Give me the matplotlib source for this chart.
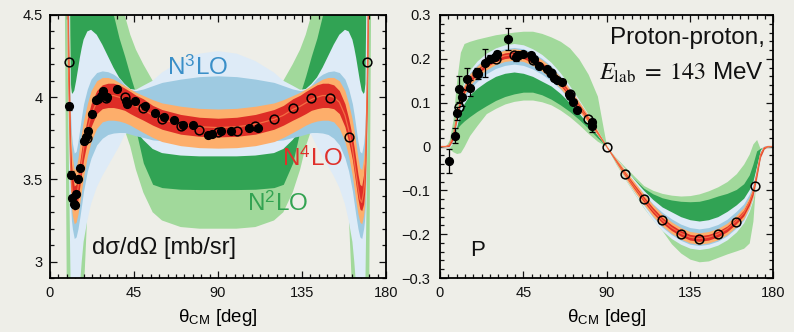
import numpy as np
import matplotlib
matplotlib.use("Agg")
import matplotlib.pyplot as plt
from matplotlib.ticker import MultipleLocator, FuncFormatter

plt.rcParams['font.family'] = ['Liberation Sans', 'DejaVu Sans']
plt.rcParams['mathtext.fontset'] = 'stix'

BG = '#eeeee8'
C_LG = '#a1d99b'   # N2LO outer
C_DG = '#31a354'   # N2LO inner
C_LB = '#deebf7'   # N3LO outer
C_MB = '#9ecae1'   # N3LO inner
C_OR = '#fdae6b'   # N4LO outer
C_RD = '#de2d26'   # N4LO inner
C_LINE = '#f46d43'

# ---------------- differential cross section (left panel) ----------------
theta_l = [0, 7, 8, 9, 9.5, 10, 10.5, 11, 11.5, 12, 13, 14, 15, 16, 17, 18, 20, 22, 25, 28,
           31, 34, 37, 40, 43, 46, 50, 55, 60, 70, 80, 90,
           100, 110, 120, 125, 130, 134, 137, 140, 143, 146, 149, 152, 155, 158, 160, 162,
           163, 164, 165, 166, 167, 168, 168.5, 169, 169.5, 170, 170.5, 171, 172, 173, 180]

xs_n4lo = [5.0, 5.0, 5.0, 5.0, 4.6, 4.1, 3.85, 3.6, 3.48, 3.42, 3.36, 3.38, 3.45, 3.53, 3.61, 3.69,
           3.8, 3.89, 3.97, 4.0, 4.01, 4.01, 4.0, 3.985, 3.965, 3.945, 3.925, 3.89, 3.865, 3.835, 3.82, 3.815,
           3.82, 3.835, 3.865, 3.89, 3.925, 3.945, 3.965, 3.985, 4.0, 4.01, 4.01, 4.0, 3.97, 3.89, 3.8,
           3.69, 3.61, 3.53, 3.45, 3.38, 3.36, 3.42, 3.48, 3.6, 3.85, 4.1, 4.6, 5.0, 5.0, 5.0, 5.0]
xs_n4lo_lo_in = [5.0, 5.0, 5.0, 5.0, 4.45, 3.98, 3.74, 3.52, 3.41, 3.35, 3.31, 3.32, 3.38, 3.46, 3.54, 3.62,
                 3.73, 3.82, 3.9, 3.93, 3.937, 3.937, 3.93, 3.92, 3.9, 3.882, 3.86, 3.83, 3.805, 3.775, 3.762, 3.758,
                 3.762, 3.775, 3.805, 3.83, 3.86, 3.882, 3.9, 3.92, 3.93, 3.937, 3.937, 3.93, 3.9, 3.82, 3.73,
                 3.62, 3.54, 3.46, 3.38, 3.32, 3.31, 3.35, 3.41, 3.52, 3.74, 3.98, 4.45, 5.0, 5.0, 5.0, 5.0]
xs_n4lo_hi_in = [5.0, 5.0, 5.0, 5.0, 4.8, 4.3, 4.0, 3.72, 3.6, 3.53, 3.46, 3.47, 3.53, 3.61, 3.69, 3.76,
                 3.87, 3.96, 4.04, 4.075, 4.085, 4.085, 4.075, 4.055, 4.035, 4.012, 3.99, 3.95, 3.925, 3.895, 3.878, 3.872,
                 3.878, 3.895, 3.925, 3.95, 3.99, 4.012, 4.035, 4.055, 4.075, 4.085, 4.085, 4.075, 4.04, 3.96, 3.87,
                 3.76, 3.69, 3.61, 3.53, 3.47, 3.46, 3.53, 3.6, 3.72, 4.0, 4.3, 4.8, 5.0, 5.0, 5.0, 5.0]
xs_n4lo_lo_out = [5.0, 5.0, 5.0, 5.0, 4.4, 3.92, 3.66, 3.43, 3.33, 3.28, 3.23, 3.24, 3.29, 3.36, 3.44, 3.52,
                  3.64, 3.73, 3.81, 3.85, 3.86, 3.86, 3.855, 3.845, 3.83, 3.81, 3.785, 3.755, 3.73, 3.705, 3.693, 3.69,
                  3.693, 3.705, 3.73, 3.755, 3.785, 3.81, 3.83, 3.845, 3.855, 3.86, 3.86, 3.85, 3.81, 3.73, 3.64,
                  3.52, 3.44, 3.36, 3.29, 3.24, 3.23, 3.28, 3.33, 3.43, 3.66, 3.92, 4.4, 5.0, 5.0, 5.0, 5.0]
xs_n4lo_hi_out = [5.0, 5.0, 5.0, 5.0, 4.9, 4.4, 4.1, 3.82, 3.7, 3.63, 3.56, 3.57, 3.63, 3.71, 3.79, 3.86,
                  3.96, 4.04, 4.1, 4.12, 4.12, 4.11, 4.09, 4.07, 4.05, 4.03, 4.01, 3.985, 3.965, 3.945, 3.932, 3.928,
                  3.932, 3.945, 3.965, 3.985, 4.01, 4.03, 4.05, 4.07, 4.09, 4.11, 4.12, 4.12, 4.1, 4.04, 3.96,
                  3.86, 3.79, 3.71, 3.63, 3.57, 3.56, 3.63, 3.7, 3.82, 4.1, 4.4, 4.9, 5.0, 5.0, 5.0, 5.0]
xs_n3lo_lo_in = [5.0, 5.0, 5.0, 5.0, 4.3, 3.85, 3.6, 3.35, 3.25, 3.2, 3.14, 3.15, 3.2, 3.27, 3.35, 3.43,
                 3.55, 3.63, 3.71, 3.75, 3.773, 3.782, 3.785, 3.785, 3.775, 3.765, 3.755, 3.74, 3.735, 3.74, 3.75, 3.75,
                 3.75, 3.74, 3.735, 3.74, 3.755, 3.765, 3.775, 3.785, 3.785, 3.782, 3.773, 3.75, 3.71, 3.63, 3.55,
                 3.43, 3.35, 3.27, 3.2, 3.15, 3.14, 3.2, 3.25, 3.35, 3.6, 3.85, 4.3, 5.0, 5.0, 5.0, 5.0]
xs_n3lo_hi_in = [5.0, 5.0, 5.0, 5.0, 5.0, 4.55, 4.2, 3.9, 3.78, 3.72, 3.66, 3.67, 3.73, 3.81, 3.89, 3.96,
                 4.05, 4.11, 4.15, 4.16, 4.155, 4.14, 4.115, 4.075, 4.045, 4.04, 4.05, 4.07, 4.09, 4.11, 4.125, 4.13,
                 4.125, 4.11, 4.09, 4.07, 4.05, 4.04, 4.045, 4.075, 4.115, 4.14, 4.155, 4.16, 4.15, 4.11, 4.05,
                 3.96, 3.89, 3.81, 3.73, 3.67, 3.66, 3.72, 3.78, 3.9, 4.2, 4.55, 5.0, 5.0, 5.0, 5.0, 5.0]
xs_n3lo_lo_out = [5.0, 5.0, 5.0, 5.0, 4.2, 3.7, 3.3, 2.9, 2.7, 2.6, 2.55, 2.6, 2.7, 2.85, 3.0, 3.12,
                  3.25, 3.35, 3.45, 3.52, 3.58, 3.64, 3.7, 3.77, 3.8, 3.795, 3.74, 3.685, 3.66, 3.645, 3.64, 3.64,
                  3.64, 3.645, 3.66, 3.685, 3.74, 3.795, 3.8, 3.77, 3.7, 3.64, 3.58, 3.52, 3.45, 3.35, 3.25,
                  3.12, 3.0, 2.85, 2.7, 2.6, 2.55, 2.6, 2.7, 2.9, 3.3, 3.7, 4.2, 5.0, 5.0, 5.0, 5.0]
xs_n3lo_hi_out = [5.0, 5.0, 5.0, 5.0, 5.0, 5.0, 4.6, 4.08, 4.03, 4.02, 4.04, 4.1, 4.17, 4.24, 4.3, 4.35,
                  4.4, 4.41, 4.38, 4.32, 4.25, 4.18, 4.12, 4.08, 4.05, 4.045, 4.07, 4.1, 4.15, 4.22, 4.265, 4.28,
                  4.265, 4.22, 4.15, 4.1, 4.07, 4.045, 4.05, 4.08, 4.12, 4.18, 4.25, 4.32, 4.38, 4.41, 4.4,
                  4.35, 4.3, 4.24, 4.17, 4.1, 4.04, 4.02, 4.03, 4.08, 4.6, 5.0, 5.0, 5.0, 5.0, 5.0, 5.0]
xs_n2lo_lo_in = [5.0, 5.0, 5.0, 5.0, 5.0, 5.0, 4.6, 4.08, 4.03, 4.01, 4.0, 4.0, 3.99, 3.98, 3.97, 3.96,
                 3.95, 3.93, 3.9, 3.88, 3.86, 3.85, 3.84, 3.835, 3.83, 3.8, 3.6, 3.47, 3.45, 3.44, 3.438, 3.438,
                 3.438, 3.44, 3.45, 3.47, 3.6, 3.8, 3.83, 3.835, 3.84, 3.85, 3.86, 3.88, 3.9, 3.93, 3.95,
                 3.96, 3.97, 3.98, 3.99, 4.0, 4.0, 4.01, 4.03, 4.08, 4.6, 5.0, 5.0, 5.0, 5.0, 5.0, 5.0]
xs_n2lo_hi_in = [5.0, 5.0, 5.0, 5.0, 5.0, 5.0, 5.0, 5.0, 5.0, 5.0, 5.0, 5.0, 5.0, 5.0, 5.0, 5.0,
                 5.0, 5.0, 5.0, 5.0, 4.7, 4.5, 4.36, 4.25, 4.13, 4.02, 3.95, 3.9, 3.88, 3.86, 3.85, 3.85,
                 3.85, 3.86, 3.88, 3.9, 3.95, 4.02, 4.13, 4.25, 4.36, 4.5, 4.7, 5.0, 5.0, 5.0, 5.0,
                 5.0, 5.0, 5.0, 5.0, 5.0, 5.0, 5.0, 5.0, 5.0, 5.0, 5.0, 5.0, 5.0, 5.0, 5.0, 5.0]
xs_n2lo_lo_out = [5.0, 5.0, 4.5, 2.8, 2.5, 2.5, 2.5, 2.5, 2.5, 2.5, 2.5, 2.5, 2.5, 2.5, 2.6, 2.78,
                  3.3, 3.5, 3.65, 3.74, 3.8, 3.83, 3.83, 3.8, 3.7, 3.56, 3.42, 3.3, 3.25, 3.21, 3.2, 3.2,
                  3.2, 3.21, 3.25, 3.3, 3.42, 3.56, 3.7, 3.8, 3.83, 3.83, 3.8, 3.74, 3.65, 3.5, 3.3,
                  2.78, 2.6, 2.5, 2.5, 2.5, 2.5, 2.5, 2.5, 2.5, 2.5, 2.5, 2.5, 2.8, 4.5, 5.0, 5.0]
xs_n2lo_hi_out = [6.0, 6.0, 6.0, 6.0, 6.0, 6.0, 6.0, 6.0, 6.0, 6.0, 6.0, 6.0, 6.0, 6.0, 6.0, 6.0,
                  6.0, 6.0, 6.0, 6.0, 6.0, 6.0, 4.7, 4.5, 4.38, 4.29, 4.2, 4.1, 4.03, 4.0, 3.98, 3.98,
                  3.98, 4.0, 4.03, 4.1, 4.2, 4.29, 4.38, 4.5, 4.7, 6.0, 6.0, 6.0, 6.0, 6.0, 6.0,
                  6.0, 6.0, 6.0, 6.0, 6.0, 6.0, 6.0, 6.0, 6.0, 6.0, 6.0, 6.0, 6.0, 6.0, 6.0, 6.0]

# measured cross sections (filled) and mirrored points (open)
xs_data_th = [10.3, 11.2, 11.9, 12.8, 13.5, 14.1, 15.0, 16.0, 18.3, 19.2, 20.1, 22.6, 24.4, 25.8,
              27.2, 28.5, 30.3, 35.7, 40.8, 41.3, 45.8, 50.8, 56.5, 61.1, 66.5, 71.3, 76.6, 84.5,
              86.8, 91.8, 97.2, 106.4, 111.4]
xs_data = [3.944, 3.529, 3.384, 3.353, 3.345, 3.412, 3.505, 3.57, 3.731, 3.755, 3.792, 3.899, 3.98,
           3.988, 4.005, 4.035, 4.004, 4.049, 3.974, 3.958, 3.974, 3.944, 3.903, 3.877, 3.863, 3.833,
           3.833, 3.772, 3.778, 3.792, 3.792, 3.81, 3.812]
xs_err = [0.022, 0.02, 0.015, 0.012, 0.01, 0.012, 0.015, 0.014, 0.014, 0.012, 0.012, 0.015, 0.015,
          0.012, 0.015, 0.02, 0.012, 0.012, 0.012, 0.012, 0.01, 0.01, 0.008, 0.008, 0.008, 0.008,
          0.008, 0.008, 0.008, 0.008, 0.008, 0.008, 0.008]
open_th = [10, 20, 30, 40, 50, 60, 70, 80, 90, 100, 110, 120, 130, 140, 150, 160, 170]
xs_open = [4.213, 3.752, 3.994, 4.0, 3.937, 3.869, 3.822, 3.798, 3.79, 3.796, 3.822, 3.869, 3.936,
           3.998, 3.998, 3.756, 4.213]

# ---------------- analyzing power (right panel) ----------------
theta_p = [0, 3, 5, 7, 9, 11, 13, 16, 20, 25, 30, 35, 40, 45, 50, 55, 60, 65, 70, 75, 80, 85, 90,
           95, 100, 105, 110, 115, 120, 125, 130, 135, 140, 145, 150, 155, 160, 164, 167, 169, 171,
           173, 175, 177, 180]
p_n4lo = [0, 0, 0.003, 0.02, 0.065, 0.105, 0.128, 0.152, 0.17, 0.188, 0.2, 0.207, 0.21, 0.207, 0.198,
          0.185, 0.168, 0.146, 0.12, 0.092, 0.063, 0.032, 0,
          -0.032, -0.063, -0.092, -0.12, -0.146, -0.168, -0.185, -0.198, -0.207, -0.21, -0.207, -0.2,
          -0.188, -0.17, -0.152, -0.128, -0.105, -0.065, -0.02, -0.003, 0, 0]
p_n4lo_w_in = [0, 0, 0.002, 0.004, 0.005, 0.006, 0.0065, 0.0065, 0.0065, 0.0065, 0.0065, 0.0065,
               0.0065, 0.0065, 0.0065, 0.0065, 0.0065, 0.0065, 0.006, 0.005, 0.004, 0.002, 0,
               0.002, 0.004, 0.005, 0.006, 0.0065, 0.0065, 0.0065, 0.0065, 0.0065, 0.0065, 0.0065,
               0.0065, 0.0065, 0.0065, 0.0065, 0.0065, 0.006, 0.005, 0.004, 0.002, 0, 0]
p_n4lo_w_out = [0, 0.001, 0.003, 0.006, 0.009, 0.011, 0.012, 0.013, 0.013, 0.013, 0.013, 0.013,
                0.013, 0.013, 0.013, 0.013, 0.013, 0.013, 0.012, 0.011, 0.009, 0.005, 0,
                0.005, 0.009, 0.011, 0.012, 0.013, 0.013, 0.013, 0.013, 0.013, 0.013, 0.013, 0.013,
                0.013, 0.013, 0.013, 0.012, 0.011, 0.009, 0.006, 0.003, 0.001, 0]
# N3LO band edges given as distance below / above the N4LO curve
p_n3lo_dn_in = [0, 0.001, 0.004, 0.008, 0.013, 0.017, 0.019, 0.021, 0.022, 0.022, 0.022, 0.022,
                0.022, 0.022, 0.021, 0.02, 0.018, 0.015, 0.013, 0.01, 0.008, 0.005, 0,
                0.005, 0.008, 0.011, 0.013, 0.015, 0.016, 0.016, 0.016, 0.016, 0.016, 0.016, 0.016,
                0.016, 0.016, 0.016, 0.014, 0.012, 0.010, 0.006, 0.003, 0.001, 0]
p_n3lo_up_in = [0, 0.001, 0.003, 0.006, 0.010, 0.012, 0.014, 0.016, 0.016, 0.016, 0.016, 0.016,
                0.016, 0.016, 0.016, 0.016, 0.016, 0.015, 0.013, 0.011, 0.008, 0.005, 0,
                0.005, 0.008, 0.010, 0.013, 0.015, 0.018, 0.020, 0.021, 0.022, 0.022, 0.022, 0.022,
                0.022, 0.022, 0.021, 0.019, 0.017, 0.013, 0.008, 0.004, 0.001, 0]
p_n3lo_dn_out = [0, 0.002, 0.006, 0.012, 0.020, 0.026, 0.030, 0.034, 0.037, 0.040, 0.040, 0.040,
                 0.040, 0.040, 0.038, 0.036, 0.030, 0.025, 0.020, 0.016, 0.012, 0.006, 0,
                 0.006, 0.011, 0.015, 0.019, 0.022, 0.024, 0.025, 0.025, 0.025, 0.025, 0.025, 0.025,
                 0.025, 0.025, 0.022, 0.020, 0.017, 0.013, 0.008, 0.004, 0.001, 0]
p_n3lo_up_out = [0, 0.001, 0.004, 0.008, 0.013, 0.017, 0.020, 0.022, 0.025, 0.025, 0.025, 0.025,
                 0.025, 0.025, 0.025, 0.025, 0.024, 0.022, 0.019, 0.015, 0.011, 0.006, 0,
                 0.006, 0.012, 0.016, 0.020, 0.025, 0.030, 0.036, 0.038, 0.040, 0.040, 0.040, 0.040,
                 0.040, 0.037, 0.034, 0.030, 0.026, 0.020, 0.012, 0.006, 0.002, 0]
p_n2lo_lo_in = [0, 0, 0.0, 0.01, 0.04, 0.05, 0.058, 0.068, 0.08, 0.093, 0.105, 0.114, 0.12, 0.124,
                0.124, 0.118, 0.108, 0.095, 0.08, 0.062, 0.042, 0.02, 0,
                -0.03, -0.06, -0.09, -0.115, -0.14, -0.16, -0.175, -0.185, -0.19, -0.19, -0.185,
                -0.178, -0.165, -0.145, -0.13, -0.11, -0.09, -0.045, -0.01, 0, 0, 0]
p_n2lo_hi_in = [0, 0, 0.003, 0.02, 0.065, 0.1, 0.12, 0.145, 0.165, 0.18, 0.19, 0.195, 0.197, 0.195,
                0.188, 0.176, 0.16, 0.14, 0.115, 0.088, 0.06, 0.03, 0,
                -0.03, -0.055, -0.075, -0.095, -0.108, -0.117, -0.122, -0.125, -0.126, -0.125, -0.12,
                -0.113, -0.107, -0.098, -0.085, -0.065, -0.04, -0.01, -0.004, 0, 0, 0]
p_n2lo_lo_out = [0, 0, -0.005, -0.012, -0.016, -0.014, 0.0, 0.025, 0.048, 0.075, 0.087, 0.097, 0.103,
                 0.106, 0.106, 0.102, 0.095, 0.083, 0.068, 0.05, 0.03, 0.012, 0,
                 -0.04, -0.075, -0.108, -0.14, -0.167, -0.192, -0.222, -0.243, -0.257, -0.263, -0.261,
                 -0.253, -0.245, -0.238, -0.232, -0.22, -0.17, -0.05, -0.012, -0.002, 0, 0]
p_n2lo_hi_out = [0, 0, 0.015, 0.06, 0.15, 0.215, 0.235, 0.24, 0.245, 0.25, 0.255, 0.258, 0.261, 0.263,
                 0.263, 0.258, 0.25, 0.24, 0.225, 0.2, 0.165, 0.115, 0,
                 -0.025, -0.047, -0.068, -0.089, -0.1, -0.107, -0.111, -0.113, -0.112, -0.108, -0.101,
                 -0.092, -0.08, -0.062, -0.04, -0.017, 0.006, 0.016, -0.006, 0.0, 0, 0]

p_data_th = [5.0, 8.1, 9.0, 10.2, 11.7, 14.4, 16.2, 19.8, 20.7, 24.3, 27.0, 29.7, 30.6, 36.9, 41.0,
             42.0, 45.0, 49.0, 50.8, 53.6, 57.6, 59.9, 61.6, 63.2, 65.7, 69.5, 70.0, 71.6, 73.8,
             81.9, 82.2]
p_data = [-0.033, 0.025, 0.076, 0.131, 0.112, 0.155, 0.134, 0.17, 0.165, 0.19, 0.2, 0.205, 0.211,
          0.2445, 0.204, 0.208, 0.211, 0.208, 0.2, 0.184, 0.177, 0.168, 0.156, 0.152, 0.148, 0.12,
          0.115, 0.101, 0.083, 0.057, 0.046]
p_err = [0.027, 0.018, 0.015, 0.03, 0.02, 0.025, 0.018, 0.01, 0.01, 0.032, 0.008, 0.006, 0.006,
         0.025, 0.01, 0.008, 0.005, 0.005, 0.005, 0.005, 0.005, 0.005, 0.005, 0.005, 0.005, 0.005,
         0.005, 0.005, 0.005, 0.006, 0.012]
p_open = [0.091, 0.168, 0.199, 0.209, 0.197, 0.168, 0.12, 0.063, 0.0, -0.063, -0.12, -0.168, -0.2,
          -0.211, -0.2, -0.172, -0.09]


def tick_fmt(v, pos):
    return ('%g' % round(v, 6)).replace('-', '\u2212')


def style_axes(ax, ymajor, yminor):
    ax.set_facecolor(BG)
    ax.set_xlim(0, 180)
    ax.xaxis.set_major_locator(MultipleLocator(45))
    ax.xaxis.set_minor_locator(MultipleLocator(4.5))
    ax.yaxis.set_major_locator(MultipleLocator(ymajor))
    ax.yaxis.set_minor_locator(MultipleLocator(yminor))
    ax.xaxis.set_major_formatter(FuncFormatter(tick_fmt))
    ax.yaxis.set_major_formatter(FuncFormatter(tick_fmt))
    ax.tick_params(which='both', direction='in', top=True, right=True, width=0.9,
                   colors='#111111', labelsize=10.5)
    ax.tick_params(which='major', length=5)
    ax.tick_params(which='minor', length=2.8)
    ax.tick_params(axis='x', pad=6)
    ax.tick_params(axis='y', pad=5)
    for sp in ax.spines.values():
        sp.set_linewidth(1.3)
        sp.set_zorder(20)
    ax.set_xlabel('\u03b8$_{\\mathregular{CM}}$ [deg]', fontsize=13.5, labelpad=5)


def draw_bands(ax, th, layers):
    for (lo, hi), col, z in layers:
        ax.fill_between(th, lo, hi, color=col, lw=0, zorder=z)


fig = plt.figure(figsize=(7.94, 3.32), dpi=100, facecolor=BG)
ax1 = fig.add_axes([50 / 794, 54 / 332, 336 / 794, 263 / 332])
ax2 = fig.add_axes([440 / 794, 54 / 332, 333.3 / 794, 263 / 332])

# ---- left: d sigma / d Omega ----
draw_bands(ax1, theta_l, [
    ((xs_n2lo_lo_out, xs_n2lo_hi_out), C_LG, 1),
    ((xs_n2lo_lo_in, xs_n2lo_hi_in), C_DG, 2),
    ((xs_n3lo_lo_out, xs_n3lo_hi_out), C_LB, 3),
    ((xs_n3lo_lo_in, xs_n3lo_hi_in), C_MB, 4),
    ((xs_n4lo_lo_out, xs_n4lo_hi_out), C_OR, 5),
    ((xs_n4lo_lo_in, xs_n4lo_hi_in), C_RD, 6),
])
ax1.plot(theta_l, xs_n4lo, color=C_LINE, lw=0.9, zorder=7)
ax1.errorbar(xs_data_th, xs_data, yerr=xs_err, fmt='o', ms=5.6, mfc='black', mec='black',
             ecolor='black', elinewidth=0.9, capsize=2.2, capthick=0.9, zorder=10)
ax1.plot(open_th, xs_open, 'o', ms=6.3, mfc='none', mec='black', mew=1.1, zorder=11)
ax1.set_ylim(2.9, 4.5)
style_axes(ax1, 0.5, 0.1)

ax1.text(0.348, 0.802, 'N$^{\\mathregular{3}}$LO', transform=ax1.transAxes, fontsize=17.5,
         color='#3a8fc8', va='center', ha='left', zorder=30)
ax1.text(0.690, 0.456, 'N$^{\\mathregular{4}}$LO', transform=ax1.transAxes, fontsize=17.5,
         color='#e0302a', va='center', ha='left', zorder=30)
ax1.text(0.586, 0.285, 'N$^{\\mathregular{2}}$LO', transform=ax1.transAxes, fontsize=17.5,
         color='#33a352', va='center', ha='left', zorder=30)
ax1.text(0.125, 0.114, 'd\u03c3/d\u03a9 [mb/sr]', transform=ax1.transAxes, fontsize=17,
         color='#111111', va='center', ha='left', zorder=30)

# ---- right: analyzing power ----
c4 = np.array(p_n4lo)
draw_bands(ax2, theta_p, [
    ((p_n2lo_lo_out, p_n2lo_hi_out), C_LG, 1),
    ((p_n2lo_lo_in, p_n2lo_hi_in), C_DG, 2),
    ((c4 - np.array(p_n3lo_dn_out), c4 + np.array(p_n3lo_up_out)), C_LB, 3),
    ((c4 - np.array(p_n3lo_dn_in), c4 + np.array(p_n3lo_up_in)), C_MB, 4),
    ((c4 - np.array(p_n4lo_w_out), c4 + np.array(p_n4lo_w_out)), C_OR, 5),
    ((c4 - np.array(p_n4lo_w_in), c4 + np.array(p_n4lo_w_in)), C_RD, 6),
])
ax2.plot(theta_p, p_n4lo, color=C_LINE, lw=0.9, zorder=7)
ax2.errorbar(p_data_th, p_data, yerr=p_err, fmt='o', ms=5.6, mfc='black', mec='black',
             ecolor='black', elinewidth=0.9, capsize=2.2, capthick=0.9, zorder=10)
ax2.plot(open_th, p_open, 'o', ms=6.3, mfc='none', mec='black', mew=1.1, zorder=11)
ax2.set_ylim(-0.3, 0.3)
style_axes(ax2, 0.1, 0.02)
ax2.tick_params(axis='y', pad=7)

ax2.text(0.975, 0.912, 'Proton-proton,', transform=ax2.transAxes, fontsize=17.5,
         color='#111111', va='center', ha='right', zorder=30)
ax2.text(0.972, 0.779, '$E_{\\mathrm{lab}}\\;=\\;143$ MeV', transform=ax2.transAxes,
         fontsize=17.5, color='#111111', va='center', ha='right', zorder=30)
ax2.text(0.09, 0.103, 'P', transform=ax2.transAxes, fontsize=16,
         color='#111111', va='center', ha='left', zorder=30)

fig.savefig('out.png', dpi=100, facecolor=BG)
